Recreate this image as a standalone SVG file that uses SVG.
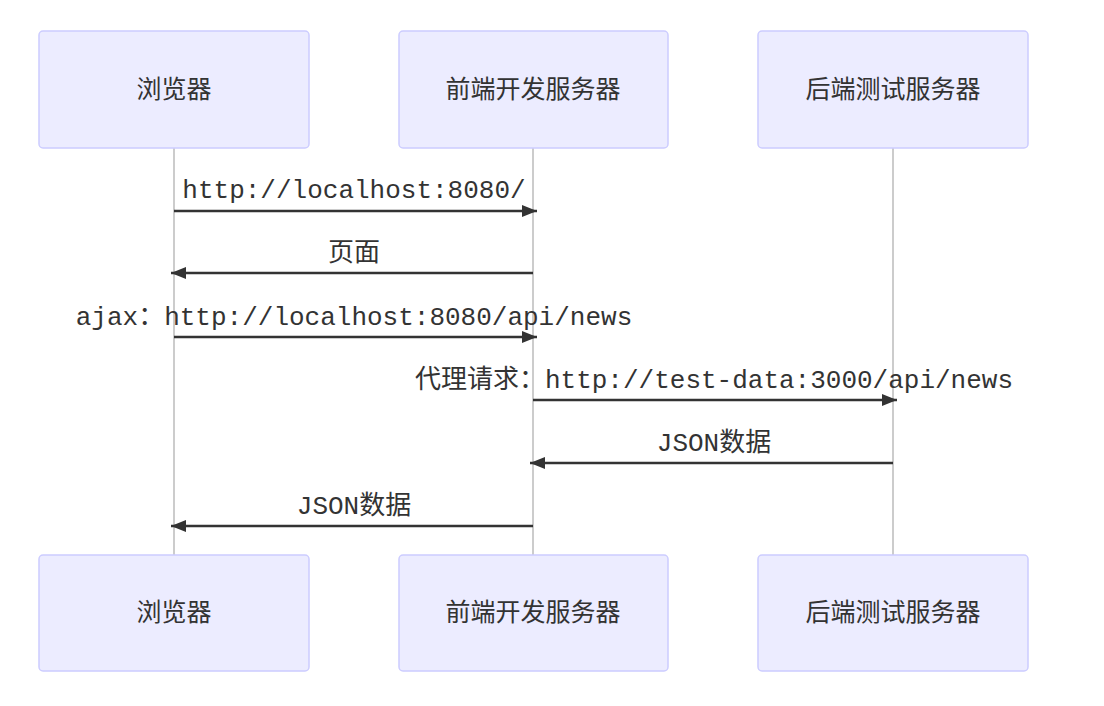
<svg xmlns="http://www.w3.org/2000/svg" width="1104" height="706" viewBox="0 0 1104 706">
<style>
.actor{fill:#ECECFF;stroke:#CCCCFF;stroke-width:1.5}
.alabel{font-family:"Noto Sans CJK SC",sans-serif;font-size:25px;fill:#333;text-anchor:middle;dominant-baseline:central}
.life{stroke:#999;stroke-width:1}
.msg{stroke:#333;stroke-width:2.5;fill:none}
.mlabel{font-family:"Liberation Mono","Noto Sans CJK SC",monospace;font-size:26px;fill:#333;text-anchor:middle}
</style>
<defs>
<marker id="arrow" markerUnits="userSpaceOnUse" markerWidth="16" markerHeight="12" refX="15" refY="6" orient="auto">
<path d="M0,0 L15,6 L0,12 z" fill="#333"/>
</marker>
</defs>
<g id="lifelines">
<line class="life" x1="174" y1="148" x2="174" y2="555"/>
<line class="life" x1="533" y1="148" x2="533" y2="555"/>
<line class="life" x1="893" y1="148" x2="893" y2="555"/>
</g>
<g id="browser-top"><rect class="actor" x="39" y="31" width="270" height="117" rx="4"/><text class="alabel" x="174" y="87">浏览器</text></g>
<g id="devserver-top"><rect class="actor" x="399" y="31" width="269" height="117" rx="4"/><text class="alabel" x="533" y="87">前端开发服务器</text></g>
<g id="backend-top"><rect class="actor" x="758" y="31" width="270" height="117" rx="4"/><text class="alabel" x="893" y="87">后端测试服务器</text></g>
<g id="browser-bottom"><rect class="actor" x="39" y="555" width="270" height="116" rx="4"/><text class="alabel" x="174" y="610">浏览器</text></g>
<g id="devserver-bottom"><rect class="actor" x="399" y="555" width="269" height="116" rx="4"/><text class="alabel" x="533" y="610">前端开发服务器</text></g>
<g id="backend-bottom"><rect class="actor" x="758" y="555" width="270" height="116" rx="4"/><text class="alabel" x="893" y="610">后端测试服务器</text></g>
<g id="connectors">
<line class="msg" x1="174" y1="211" x2="537" y2="211" marker-end="url(#arrow)"/>
<line class="msg" x1="533" y1="273" x2="171" y2="273" marker-end="url(#arrow)"/>
<line class="msg" x1="174" y1="337" x2="537" y2="337" marker-end="url(#arrow)"/>
<line class="msg" x1="533" y1="400" x2="897" y2="400" marker-end="url(#arrow)"/>
<line class="msg" x1="893" y1="463" x2="530" y2="463" marker-end="url(#arrow)"/>
<line class="msg" x1="533" y1="526" x2="171" y2="526" marker-end="url(#arrow)"/>
<text class="mlabel" x="354" y="198">http://localhost:8080/</text>
<text class="mlabel" x="354" y="261">页面</text>
<text class="mlabel" x="354" y="325">ajax：http://localhost:8080/api/news</text>
<text class="mlabel" x="714" y="388">代理请求：http://test-data:3000/api/news</text>
<text class="mlabel" x="714" y="451">JSON数据</text>
<text class="mlabel" x="354" y="514">JSON数据</text>
</g>
</svg>
